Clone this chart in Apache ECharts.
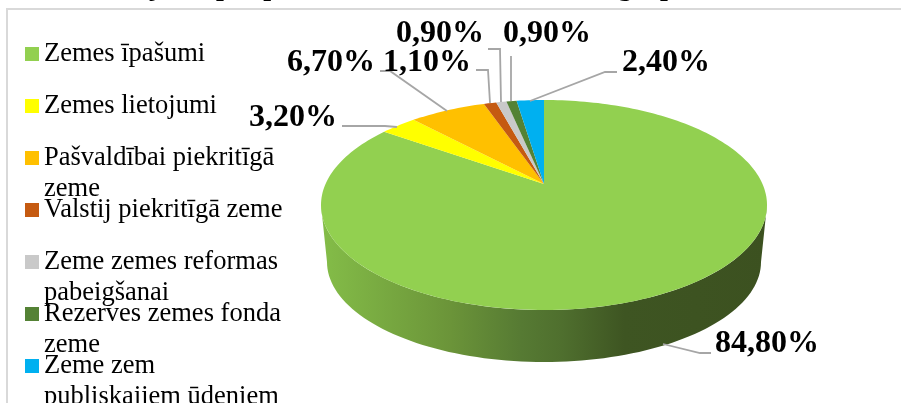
<!DOCTYPE html>
<html>
<head>
<meta charset="utf-8">
<title>Zemes sadalījums</title>
<style>
  html, body { margin: 0; padding: 0; background: #fff; }
  #main { width: 901px; height: 403px; }
</style>
</head>
<body>
<div id="main"></div>
<script src="https://cdn.jsdelivr.net/npm/echarts@6/dist/echarts.min.js"></script>
<script>
  // values in %, clockwise from 12 o'clock
  const categories = [
    "Zemes īpašumi",
    "Zemes lietojumi",
    "Pašvaldībai piekritīgā\nzeme",
    "Valstij piekritīgā zeme",
    "Zeme zemes reformas\npabeigšanai",
    "Rezerves zemes fonda\nzeme",
    "Zeme zem\npubliskajiem ūdeņiem"
  ];
  const shares = [84.8, 3.2, 6.7, 1.1, 0.9, 0.9, 2.4];
  const sliceColors = ["#92d050", "#ffff00", "#ffc000", "#c55a11", "#c9c9c9", "#548235", "#00b0f0"];
  const titleText = "Zemes sadalījums pēc pašvaldības statusa un zemes grupām novada administratīvās robežās";

  // label anchor (left x, middle y) and leader line for each slice
  const labelSpots = [[715, 344], [249, 118], [287, 63], [383, 63], [396, 34], [503, 34], [622, 63]];
  const leaders = [
    [[663, 344], [700, 353], [711, 353]],
    [[397, 127], [385, 126], [342, 126]],
    [[447, 111], [390, 71], [380, 71]],
    [[490, 103], [488, 70], [476, 70]],
    [[501, 102], [500, 49], [488, 49]],
    [[511, 101], [511, 56]],
    [[530, 101], [605, 72], [617, 72]]
  ];

  // tilted pie: top face, bottom rim, and how far the pie centre sits from the ellipse centre
  const face = { cx: 544, cy: 205, rx: 223, ry: 105 };
  const rim = { cx: 544, cy: 262, rx: 217, ry: 100 };
  const tilt = -0.2;

  const total = shares.reduce((a, b) => a + b, 0);

  function project(angle) {
    const u = Math.sin(angle), v = -Math.cos(angle);
    const d = 1 + tilt * v;
    return [
      face.cx + face.rx * u * Math.sqrt(1 - tilt * tilt) / d,
      face.cy + face.ry * (v + tilt) / d
    ];
  }

  function wallPoints() {
    const pts = [];
    for (let i = 0; i <= 90; i++) {
      const t = Math.PI * i / 90;
      pts.push([face.cx + face.rx * Math.cos(t), face.cy + face.ry * Math.sin(t)]);
    }
    for (let i = 90; i >= 0; i--) {
      const t = Math.PI * i / 90;
      pts.push([rim.cx + rim.rx * Math.cos(t), rim.cy + rim.ry * Math.sin(t)]);
    }
    return pts;
  }

  function makeItem(index) {
    return function (params, api) {
      const value = api.value(0);
      let before = 0;
      for (let i = 0; i < index; i++) before += shares[i];
      const a0 = before / total * Math.PI * 2;
      const a1 = (before + value) / total * Math.PI * 2;
      const pts = [[face.cx, face.cy + face.ry * tilt]];
      const steps = Math.max(2, Math.ceil((a1 - a0) * 40));
      for (let i = 0; i <= steps; i++) pts.push(project(a0 + (a1 - a0) * i / steps));

      const children = [];
      if (index === 0) {
        children.push({
          type: "polygon",
          shape: { points: wallPoints() },
          style: {
            fill: new echarts.graphic.LinearGradient(321, 0, 767, 0, [
              { offset: 0, color: "#84bd48" },
              { offset: 0.29, color: "#6b9439" },
              { offset: 0.45, color: "#567a33" },
              { offset: 0.54, color: "#4f6f2e" },
              { offset: 0.68, color: "#3e5522" },
              { offset: 1, color: "#3c5120" }
            ], true)
          }
        });
      }
      children.push({ type: "polygon", shape: { points: pts }, style: { fill: sliceColors[index] } });
      children.push({
        type: "polyline",
        shape: { points: leaders[index] },
        style: { fill: "none", stroke: "#a6a6a6", lineWidth: 1.8 }
      });
      children.push({
        type: "text",
        x: labelSpots[index][0],
        y: labelSpots[index][1],
        style: {
          text: value.toFixed(2).replace(".", ",") + "%",
          font: 'bold 32px "Liberation Serif"',
          fill: "#000",
          verticalAlign: "middle"
        }
      });
      return { type: "group", children: children };
    };
  }

  const legendLine = 31;
  const myChart = echarts.init(document.getElementById("main"), null, { renderer: "canvas" });
  myChart.setOption({
    animation: false,
    backgroundColor: "#fff",
    title: {
      text: titleText,
      left: -10,
      top: -31,
      textStyle: { fontFamily: "Liberation Serif", fontWeight: "bold", fontSize: 28, color: "#000" }
    },
    legend: categories.map((name, i) => {
      const lines = name.split("\n").length;
      return {
        data: [name],
        left: 25,
        top: 54 + i * 52 - (2 * lines - 1) * legendLine / 2,
        padding: 0,
        itemWidth: 14,
        itemHeight: 14,
        itemGap: 5,
        icon: "rect",
        selectedMode: false,
        // blank lines on top keep the first line level with the swatch
        formatter: n => "\n".repeat(lines - 1) + n,
        textStyle: {
          fontFamily: "Liberation Serif",
          fontSize: 26.5,
          lineHeight: legendLine,
          color: "#000"
        }
      };
    }),
    graphic: [{
      type: "rect",
      silent: true,
      z: -1,
      shape: { x: 7, y: 9, width: 1000, height: 500 },
      style: { fill: "none", stroke: "#d9d9d9", lineWidth: 2 }
    }],
    series: categories.map((name, i) => ({
      type: "custom",
      name: name,
      coordinateSystem: "none",
      silent: true,
      itemStyle: { color: sliceColors[i] },
      renderItem: makeItem(i),
      data: [[shares[i]]]
    }))
  });
</script>
</body>
</html>
